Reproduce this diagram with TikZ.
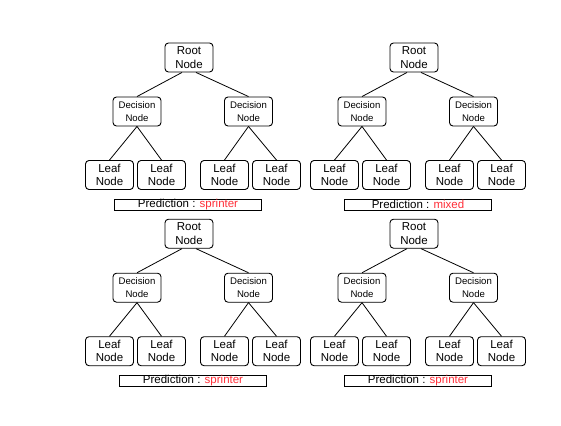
\documentclass[tikz,border=0pt]{standalone}
\usepackage{fontspec}
\setmainfont{Liberation Sans}
\usetikzlibrary{calc}
\definecolor{predred}{RGB}{255,45,55}
% one tree: #1 prefix, #2 x of root, #3 y of root, #4 x of prediction box, #5 predicted class
\newcommand{\dtree}[5]{%
  \node[rootbox] (#1r) at (#2,#3) {Root\\Node};
  \node[decbox] (#1d1) at ($(#2,#3)+(-52,54)$) {Decision\\Node};
  \node[decbox] (#1d2) at ($(#2,#3)+(59.5,54)$) {Decision\\Node};
  \node[leafbox] (#1l1) at ($(#2,#3)+(-79.5,117.5)$) {Leaf\\Node};
  \node[leafbox] (#1l2) at ($(#2,#3)+(-27.5,117.5)$) {Leaf\\Node};
  \node[leafbox] (#1l3) at ($(#2,#3)+(35.5,117.5)$) {Leaf\\Node};
  \node[leafbox] (#1l4) at ($(#2,#3)+(87.5,117.5)$) {Leaf\\Node};
  \node[predbox] (#1p) at ($(#4,#3)+(0,147)$) {Prediction : \textcolor{predred}{#5}};
  \draw[branch] ([xshift=-7pt]#1r.south) -- (#1d1.north);
  \draw[branch] ([xshift=7pt]#1r.south) -- (#1d2.north);
  \draw[branch] (#1d1.south) -- (#1l1.north);
  \draw[branch] (#1d1.south) -- (#1l2.north);
  \draw[branch] (#1d2.south) -- (#1l3.north);
  \draw[branch] (#1d2.south) -- (#1l4.north);
}
\begin{document}
\begin{tikzpicture}[x=1pt,y=-1pt,
  treebox/.style={draw=black, line width=0.9pt, rounded corners=3.5pt, fill=white,
    minimum width=48pt, minimum height=29pt, inner sep=0pt, align=center},
  rootbox/.style={treebox, font=\fontsize{11.5}{13.3}\selectfont},
  decbox/.style={treebox, font=\fontsize{9.6}{13.7}\selectfont},
  leafbox/.style={treebox, font=\fontsize{11.5}{13.3}\selectfont},
  predbox/.style={draw=black, line width=1pt, minimum width=147pt, minimum height=11pt,
    inner sep=0pt, font=\fontsize{11.5}{12}\selectfont},
  branch/.style={draw=black, line width=0.8pt}]
\useasboundingbox (0,0) rectangle (561,425);
\dtree{a}{189}{57.5}{188}{sprinter}
\dtree{b}{414}{57.5}{418}{mixed}
\dtree{c}{189}{233.7}{193}{sprinter}
\dtree{d}{414}{233.7}{418}{sprinter}
\end{tikzpicture}
\end{document}
